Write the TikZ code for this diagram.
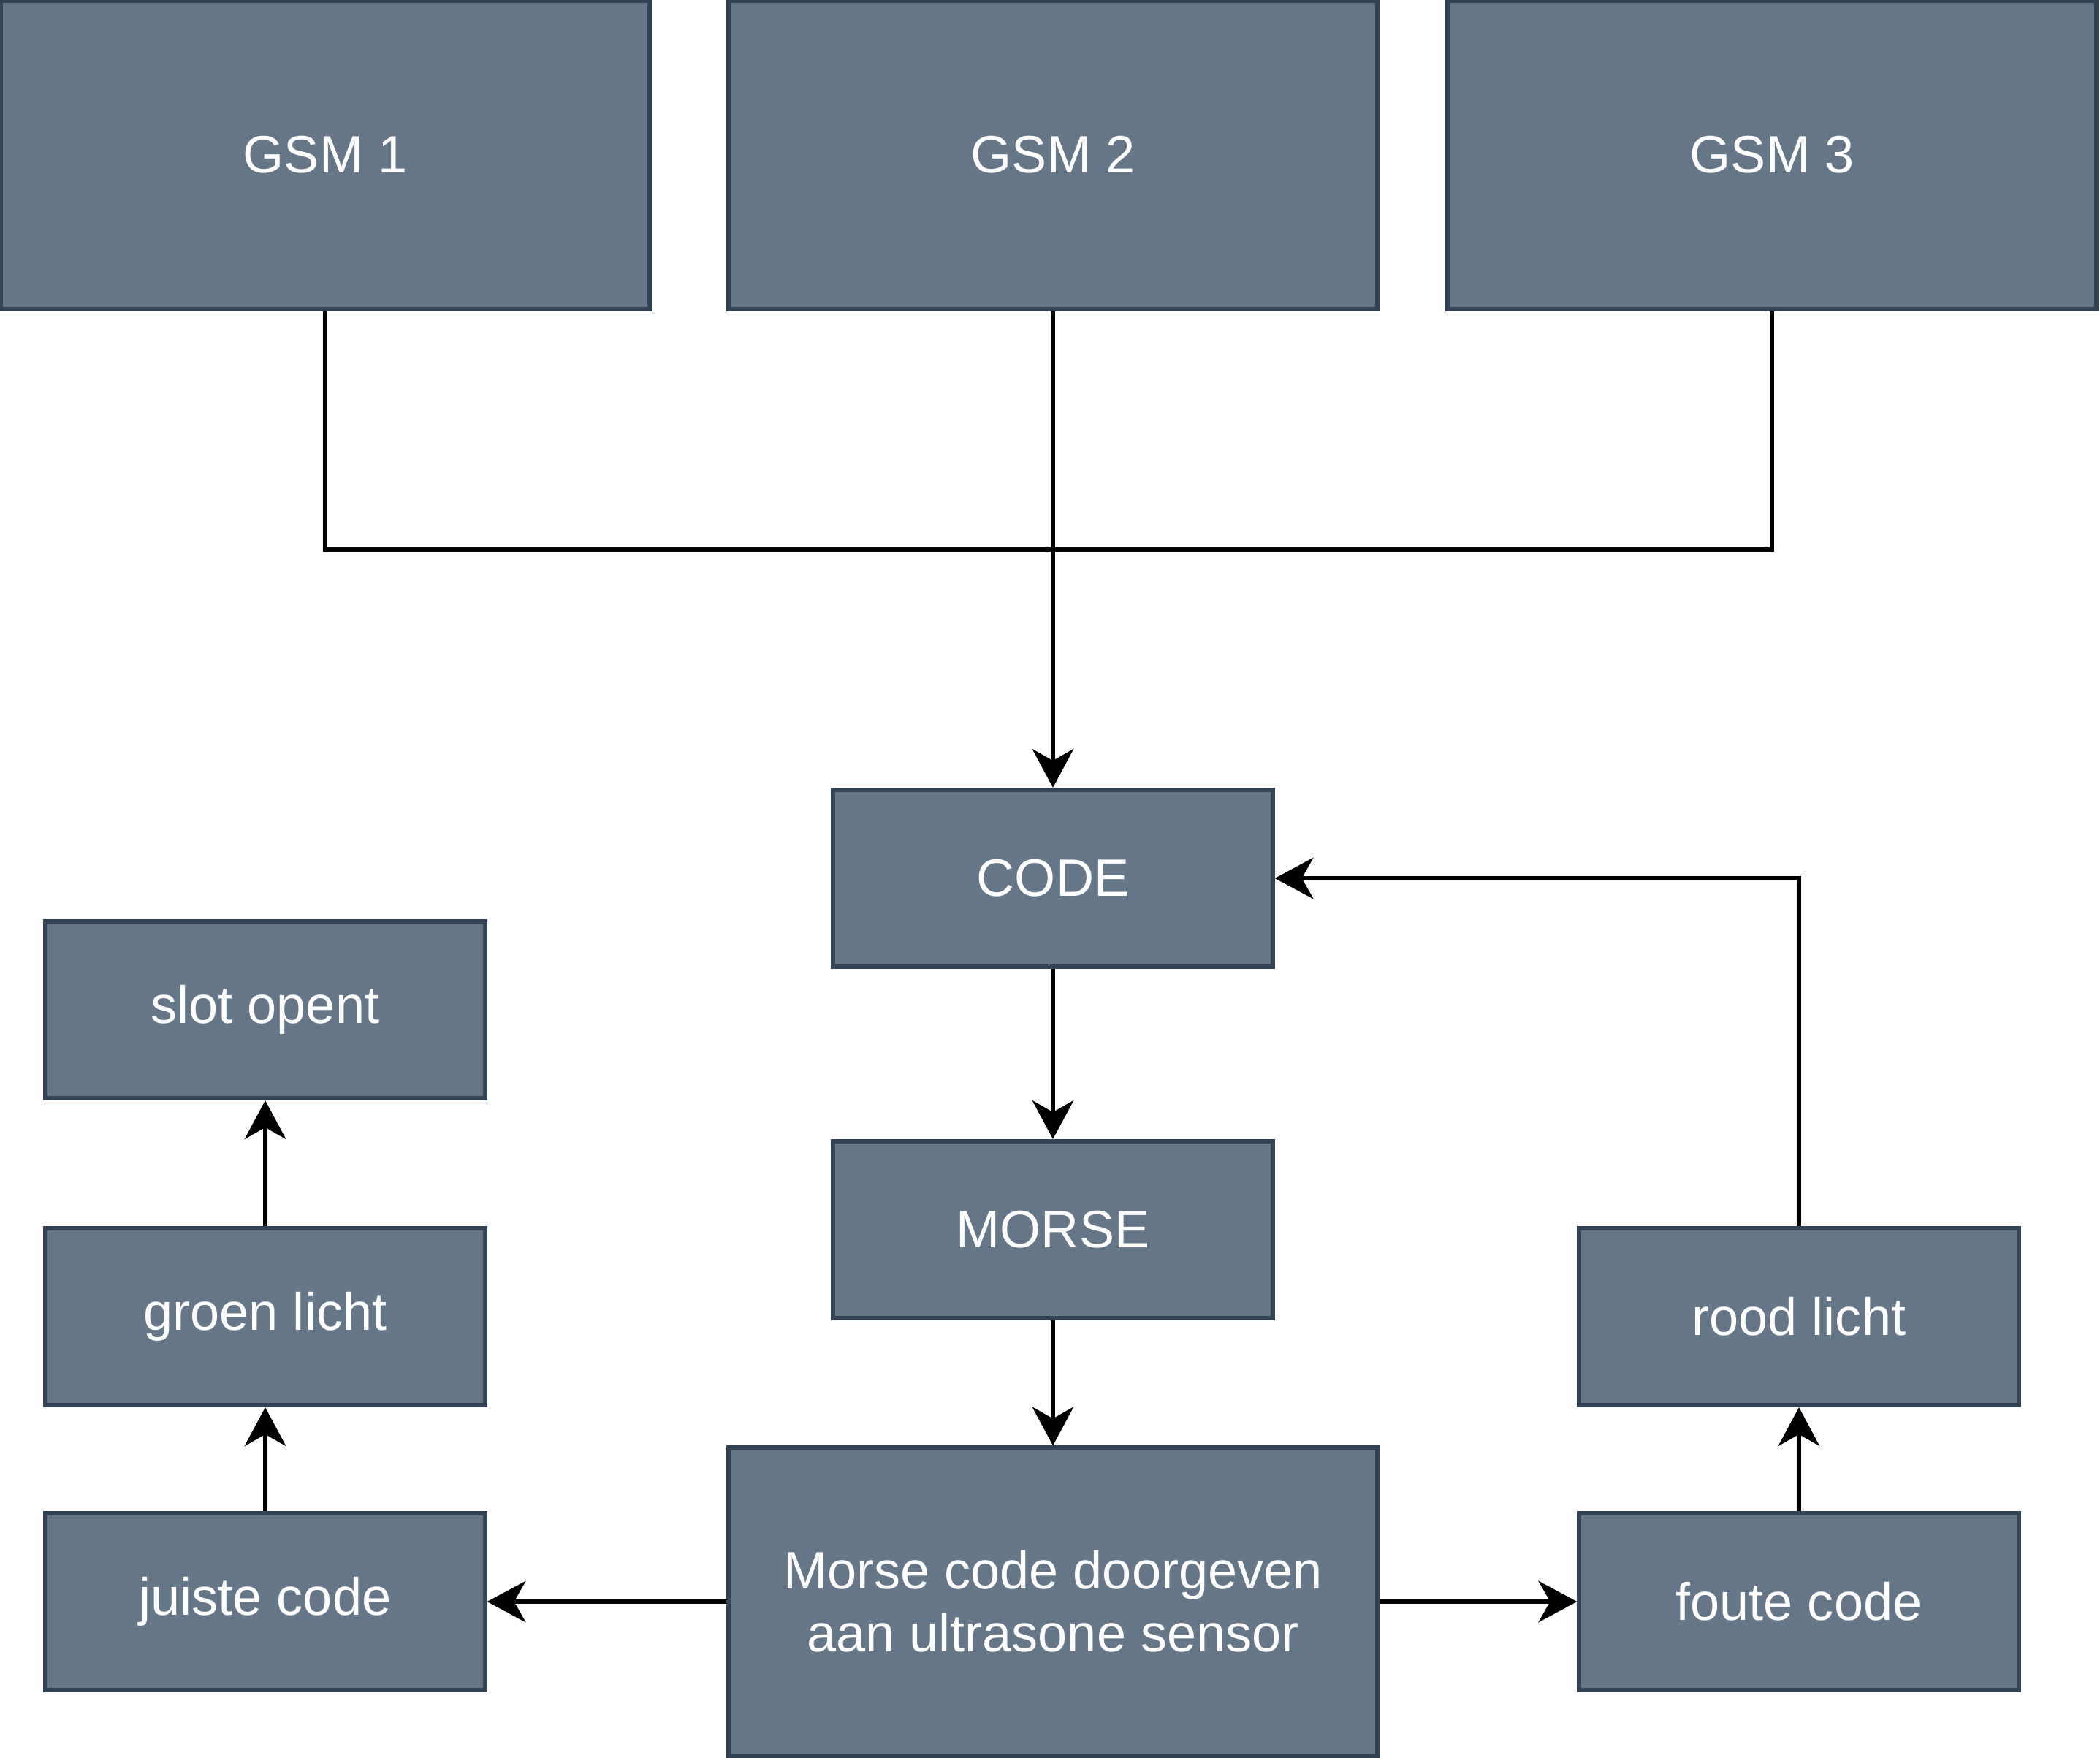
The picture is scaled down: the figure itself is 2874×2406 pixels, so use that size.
\documentclass[tikz,border=0pt]{standalone}
\usepackage{fontspec}
\setmainfont{Liberation Sans}
\usetikzlibrary{arrows.meta}

\definecolor{blokvul}{HTML}{647687}
\definecolor{bloklijn}{HTML}{314354}

\begin{document}
\begin{tikzpicture}[x=0.01cm,y=-0.01cm, >={Stealth[length=15pt,width=16pt,inset=4.5pt]},
    blok/.style={draw=bloklijn,fill=blokvul,line width=1.7pt,text=white,
      font=\fontsize{20.5}{24.5}\selectfont,align=center,
      minimum width=6.01cm,minimum height=2.42cm,inner sep=0pt},
    grootblok/.style={blok,minimum width=8.87cm,minimum height=4.21cm},
    pijl/.style={->,line width=1.9pt}]
  \useasboundingbox (0,0) rectangle (2874,2406);
  % telefoons
  \node[grootblok] (gsm1) at (445,212) {GSM 1};
  \node[grootblok] (gsm2) at (1441,212) {GSM 2};
  \node[grootblok] (gsm3) at (2425,212) {GSM 3};
  \coordinate (samen) at (1441,752);
  % midden
  \node[blok] (code) at (1441,1202) {CODE};
  \node[blok] (morse) at (1441,1683) {MORSE};
  \node[grootblok] (sensor) at (1441,2192) {Morse code doorgeven\\aan ultrasone sensor};
  % links
  \node[blok] (slot) at (363,1382) {slot opent};
  \node[blok] (groen) at (363,1802) {groen licht};
  \node[blok] (juist) at (363,2192) {juiste code};
  % rechts
  \node[blok] (rood) at (2462,1802) {rood licht};
  \node[blok] (fout) at (2462,2192) {foute code};
  % verbindingen
  \draw[line width=1.9pt] (gsm1.south) |- (samen) -| (gsm3.south);
  \draw[pijl] (gsm2.south) -- (code.north);
  \draw[pijl] (code.south) -- (morse.north);
  \draw[pijl] (morse.south) -- (sensor.north);
  \draw[pijl] (sensor.west) -- (juist.east);
  \draw[pijl] (sensor.east) -- (fout.west);
  \draw[pijl] (juist.north) -- (groen.south);
  \draw[pijl] (groen.north) -- (slot.south);
  \draw[pijl] (fout.north) -- (rood.south);
  \draw[pijl] (rood.north) |- (code.east);
\end{tikzpicture}
\end{document}
